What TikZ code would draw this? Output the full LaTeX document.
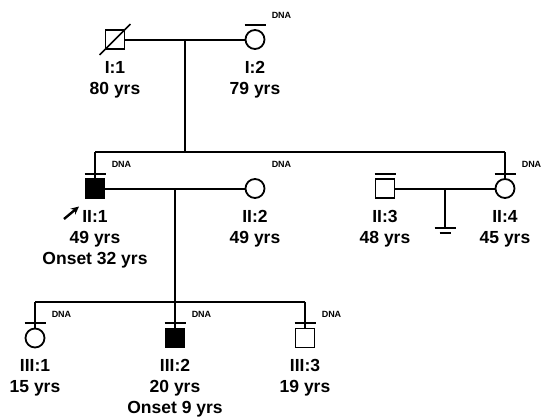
\documentclass[tikz,border=0pt]{standalone}
\usepackage{fontspec}
\setmainfont{Liberation Sans}
\usetikzlibrary{arrows.meta,calc}

\begin{document}
\begin{tikzpicture}[x=1pt,y=-1pt,line width=2pt,>=Stealth,
  male/.style={draw,rectangle,minimum size=19pt,inner sep=0pt,line width=1.8pt},
  female/.style={draw,circle,minimum size=19pt,inner sep=0pt,line width=1.8pt},
  affected/.style={fill=black},
  lbl/.style={align=center,inner sep=0pt,font=\fontsize{17.5}{21}\selectfont\bfseries},
  dna/.style={inner sep=0pt,font=\fontsize{9}{10}\selectfont\bfseries}]
\useasboundingbox (0,0) rectangle (542,418);
% --- Generation I ---
\node[male] (I1) at (115,39.5) {};
\node[female] (I2) at (255,39.5) {};
\draw[line width=1.5pt] ($(I1.south west)+(-5,5)$) -- ($(I1.north east)+(5,-5)$);
\draw (I1) -- (I2);
\coordinate (m1) at ($(I1.east)!0.5!(I2.west)$);
% --- Generation II ---
\node[male,affected] (II1) at (95,188.5) {};
\node[female] (II2) at (255,188.5) {};
\node[male] (II3) at (385,188.5) {};
\node[female] (II4) at (505,188.5) {};
\coordinate (s1) at (m1 |- 0,152);
\draw (m1) -- (s1);
\draw (II1 |- s1) -- (II4 |- s1);
\draw (II1 |- s1) -- (II1.north);
\draw (II4 |- s1) -- (II4.north);
\draw (II1) -- (II2);
\draw (II3) -- (II4);
\coordinate (m2) at ($(II1.east)!0.5!(II2.west)$);
\coordinate (m3) at ($(II3.east)!0.5!(II4.west)$);
% no offspring
\coordinate (nc) at ($(m3)+(0,39.5)$);
\draw (m3) -- (nc);
\draw ($(nc)+(-10.5,0)$) -- ($(nc)+(10.5,0)$);
\draw ($(nc)+(-5.5,5)$) -- ($(nc)+(5.5,5)$);
% proband
\coordinate (pb) at (64,219);
\draw[-{Stealth[length=8pt,width=7.5pt]},line width=2.4pt] (pb) -- ($(pb)+(15,-12.5)$);
% --- Generation III ---
\node[female] (III1) at (35,338) {};
\node[male,affected] (III2) at (175,338) {};
\node[male] (III3) at (305,338) {};
\coordinate (s2) at (m2 |- 0,301.7);
\draw (m2) -- (s2);
\draw (III1 |- s2) -- (III3 |- s2);
\foreach \p in {III1,III2,III3}
  {\draw (\p |- s2) -- (\p.north);}
% DNA bars and labels
\foreach \p in {I2,II1,II3,II4,III1,III2,III3}
  {\draw ($(\p)+(-10.5,-15)$) -- ($(\p)+(10.5,-15)$);}
\foreach \p in {I2,II1,II2,II4,III1,III2,III3}
  {\node[dna] at ($(\p)+(26.5,-24)$) {DNA};}
% --- Labels ---
\foreach \p/\lab in {I1/{I:1\\80 yrs},I2/{I:2\\79 yrs},II2/{II:2\\49 yrs},II3/{II:3\\48 yrs},II4/{II:4\\45 yrs},III1/{III:1\\15 yrs},III3/{III:3\\19 yrs}}
  {\node[lbl,anchor=north] at ($(\p)+(0,20.5)$) {\lab};}
\node[lbl,anchor=north] at ($(II1)+(0,20.5)$) {II:1\\49 yrs\\Onset 32 yrs};
\node[lbl,anchor=north] at ($(III2)+(0,20.5)$) {III:2\\20 yrs\\Onset 9 yrs};
\end{tikzpicture}
\end{document}
